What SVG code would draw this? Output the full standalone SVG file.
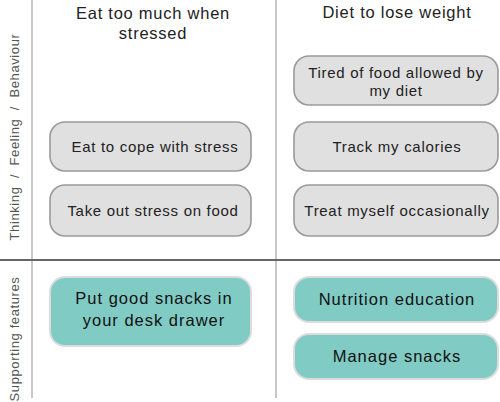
<svg xmlns="http://www.w3.org/2000/svg" width="500" height="402" viewBox="0 0 500 402">
<style>
text{font-family:"Liberation Sans",Arial,sans-serif;fill:#222;text-anchor:middle}
.hdr{font-size:16.5px;letter-spacing:0.75px}
.side{font-size:13px;fill:#555;letter-spacing:0.6px}
.g rect{fill:#e0e0e0;stroke:#9a9a9a;stroke-width:1.6}
.g text{font-size:15px;letter-spacing:0.7px}
.t rect{fill:#80cbc4;stroke:#dcdcdc;stroke-width:2}
.t text{font-size:16.5px;fill:#111;letter-spacing:1px}
</style>
<rect width="500" height="402" fill="#fff"/>
<g id="connectors">
<line x1="32" y1="0" x2="32" y2="398" stroke="#c8c8c8" stroke-width="2"/>
<line x1="276" y1="0" x2="276" y2="398" stroke="#c8c8c8" stroke-width="2"/>
<line x1="0" y1="260" x2="500" y2="260" stroke="#666" stroke-width="2"/>
</g>
<g id="headers">
<text class="hdr" x="153" y="19">Eat too much when</text>
<text class="hdr" x="153" y="39">stressed</text>
<text class="hdr" x="397" y="18">Diet to lose weight</text>
<text class="side" transform="translate(19,137) rotate(-90)" xml:space="preserve">Thinking  /  Feeling  /  Behaviour</text>
<text class="side" transform="translate(19,339) rotate(-90)">Supporting features</text>
</g>
<g id="n1" class="g"><rect x="50" y="122" width="201" height="49" rx="15"/><text x="155" y="152">Eat to cope with stress</text></g>
<g id="n2" class="g"><rect x="50" y="185" width="201" height="51" rx="15"/><text x="153" y="216">Take out stress on food</text></g>
<g id="n3" class="g"><rect x="294" y="56" width="204" height="49" rx="15"/><text x="396" y="78">Tired of food allowed by</text><text x="396" y="96">my diet</text></g>
<g id="n4" class="g"><rect x="294" y="122" width="204" height="49" rx="15"/><text x="397" y="152">Track my calories</text></g>
<g id="n5" class="g"><rect x="294" y="185" width="204" height="51" rx="15"/><text x="397" y="216">Treat myself occasionally</text></g>
<g id="n6" class="t"><rect x="50" y="277" width="201" height="69" rx="15"/><text x="154" y="304">Put good snacks in</text><text x="154" y="326">your desk drawer</text></g>
<g id="n7" class="t"><rect x="294" y="277" width="204" height="45" rx="15"/><text x="397" y="305">Nutrition education</text></g>
<g id="n8" class="t"><rect x="294" y="334" width="204" height="45" rx="15"/><text x="397" y="362">Manage snacks</text></g>
</svg>
